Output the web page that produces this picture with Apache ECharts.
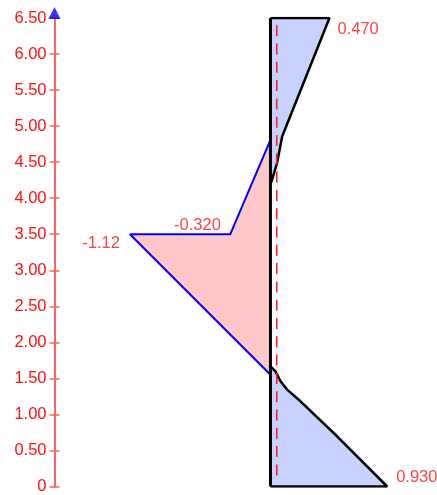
<!DOCTYPE html>
<html>
<head>
<meta charset="utf-8">
<script src="https://cdn.jsdelivr.net/npm/echarts@6/dist/echarts.min.js"></script>
<style>
html,body{margin:0;padding:0;background:#fff;}
#c{width:437px;height:495px;}
</style>
</head>
<body>
<div id="c"></div>
<script>
// ---- data ----
var yTickLabels = ['0','0.50','1.00','1.50','2.00','2.50','3.00','3.50','4.00','4.50','5.00','5.50','6.00','6.50'];
var yMin = 0, yMax = 6.5, yStep = 0.5;
var xMin = -1.721, xMax = 1.327;

// upper positive part (x, y)
var upperX = [0, 0.47, 0.093, 0.053, 0.008, 0];
var upperY = [6.5, 6.5, 4.855, 4.49, 4.23, 4.2];
// negative part
var negX = [0, -0.32, -1.12, 0];
var negY = [4.81, 3.5, 3.5, 1.55];
// lower positive part
var lowerX = [0, 0.04, 0.08, 0.133, 0.239, 0.531, 0.93, 0];
var lowerY = [1.667, 1.598, 1.46, 1.344, 1.182, 0.697, 0, 0];
// member axis
var memberX = [0, 0];
var memberY = [0, 6.5];
// dashed reference line
var dashX = [0.05, 0.05];
var dashY = [6.40, 0.07];
// value labels
var labelX = [0.47, 0.93, -0.32, -1.12];
var labelY = [6.5, 0, 3.5, 3.5];
var labelText = ['0.470', '0.930', '-0.320', '-1.12'];

function zip(xs, ys){ return xs.map(function(x,i){ return [x, ys[i]]; }); }

function polySeries(xs, ys, color){
  var pts = zip(xs, ys);
  return {
    type: 'custom', z: 1, silent: true,
    data: [[0,0]],
    renderItem: function(params, api){
      return {
        type: 'polygon',
        shape: { points: pts.map(function(p){ return api.coord(p); }) },
        style: { fill: color, stroke: null }
      };
    }
  };
}
function lineSeries(xs, ys, color, width, z, type){
  return {
    type: 'line', z: z, silent: true, symbol: 'none', animation: false,
    data: zip(xs, ys),
    lineStyle: { color: color, width: width, type: type || 'solid' }
  };
}

var labelStyles = [
  { position: 'right', distance: 8, offset: [0, 11.5] },
  { position: 'right', distance: 9, offset: [0, -9] },
  { position: 'left', distance: 9.5, offset: [0, -9] },
  { position: 'left', distance: 10, offset: [0, 9.5] }
];

var font = 'Liberation Sans, Arial, sans-serif';
var textColor = '#ff1010';
var axisColor = '#ff6060';

var chart = echarts.init(document.getElementById('c'), null, {renderer: 'canvas'});
var yAxisBase = {
  type: 'value', min: yMin, max: yMax, interval: yStep, position: 'left',
  splitLine: { show: false }
};
chart.setOption({
  animation: false,
  backgroundColor: '#ffffff',
  grid: { left: 54.5, right: 0, top: 18, bottom: 8, containLabel: false },
  xAxis: { type: 'value', min: xMin, max: xMax, show: false },
  yAxis: [
    Object.assign({}, yAxisBase, {
      axisLine: { show: true, onZero: false, lineStyle: { color: axisColor, width: 2 } },
      axisTick: { show: true, length: 5, lineStyle: { color: axisColor, width: 1.5 } },
      axisLabel: {
        show: true, margin: 8, color: textColor, fontSize: 16.5, fontFamily: font,
        formatter: function(v){ return yTickLabels[Math.round((v - yMin) / yStep)]; }
      }
    }),
    Object.assign({}, yAxisBase, {
      axisLine: { show: false, onZero: false },
      axisTick: { show: true, inside: true, length: 5, lineStyle: { color: axisColor, width: 1.5 } },
      axisLabel: { show: false }
    })
  ],
  series: [
    polySeries(upperX, upperY, '#c8d2ff'),
    polySeries(negX, negY, '#ffc8c8'),
    polySeries(lowerX, lowerY, '#c8d2ff'),
    lineSeries(negX, negY, '#0000ff', 2, 3),
    lineSeries(upperX, upperY, '#000000', 2.5, 4),
    lineSeries(lowerX, lowerY, '#000000', 2.5, 4),
    lineSeries(memberX, memberY, '#000000', 3, 5),
    lineSeries(dashX, dashY, '#ff2020', 1.6, 6, [11, 7.3]),
    {
      type: 'scatter', z: 7, silent: true, clip: false,
      symbol: 'triangle', symbolSize: [12, 12], symbolOffset: [0, -5],
      itemStyle: { color: '#0000ff' },
      data: [[xMin, yMax]]
    },
    {
      type: 'scatter', z: 8, silent: true, clip: false, symbolSize: 0,
      data: labelX.map(function(x, i){
        return {
          value: [x, labelY[i]],
          label: Object.assign({
            show: true, formatter: labelText[i], color: textColor,
            fontSize: 16.5, fontFamily: font
          }, labelStyles[i])
        };
      })
    }
  ]
});
</script>
</body>
</html>
